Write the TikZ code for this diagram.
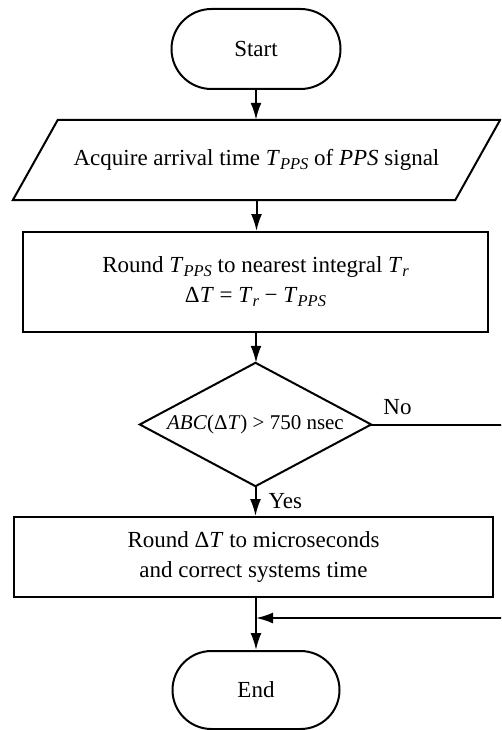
\documentclass[tikz,border=0pt]{standalone}
\usepackage{fontspec}
\setmainfont{Liberation Serif}
\usetikzlibrary{arrows.meta,shapes.misc}
% italic subscript set by hand (text font, no math font)
\newcommand\subit[1]{\raisebox{-0.38ex}{\fontsize{16.5}{16.5}\selectfont\itshape #1}}

\begin{document}
\begin{tikzpicture}[x=1pt,y=-1pt,
  every node/.style={font=\fontsize{23}{30}\selectfont, inner sep=0pt},
  line/.style={line width=2pt},
  flow/.style={line, -{Latex[length=17pt,width=11pt]}},
  terminal/.style={rounded rectangle, draw, line width=2pt,
                   minimum width=169pt, minimum height=80pt},
  procbox/.style={rectangle, draw, line width=2pt, align=center},
]
\useasboundingbox (0,0) rectangle (501,730);
\clip (0,0) rectangle (501,730);

% terminals and steps
\node[terminal] (start) at (256,49) {Start};

\node[minimum width=487pt, minimum height=80pt] (acq) at (256.5,160)
  {Acquire arrival time \textit{T}\subit{PPS} of \textit{PPS} signal};
\draw[line, line join=miter] ([xshift=45pt]acq.north west) -- (acq.north east)
  -- ([xshift=-45pt]acq.south east) -- (acq.south west) -- cycle;

\node[procbox, minimum width=465pt, minimum height=100pt] (rnd) at (255.5,282)
  {Round \textit{T}\subit{PPS} to nearest integral \textit{T}\subit{r}\\
   Δ\textit{T} = \textit{T}\subit{r} − \textit{T}\subit{PPS}};

\node[minimum width=231pt, minimum height=123pt,
      font=\fontsize{21}{25}\selectfont] (dec) at (255.5,424.5)
  {\textit{ABC}(Δ\textit{T}) > 750 nsec};
\draw[line] (dec.north) -- (dec.east) -- (dec.south) -- (dec.west) -- cycle;

\node[procbox, minimum width=479pt, minimum height=80pt] (cor) at (253.5,557)
  {Round Δ\textit{T} to microseconds\\and correct systems time};

\node[terminal, minimum width=167pt, minimum height=78pt] (end) at (256,690) {End};

% connectors
\coordinate (join) at (256,618);
\coordinate (rt) at (512,424.5);

\draw[flow] (start.south) -- (start.south |- acq.north);
\draw[flow] (acq.north |- acq.south) -- (acq.north |- rnd.north);
\draw[flow] (start.south |- rnd.south) -- (start.south |- dec.north);
\draw[flow] (dec.south) -- (dec.south |- cor.north)
  node[pos=0.5, anchor=west, xshift=12pt] {Yes};
\draw[flow] (end.north |- cor.south) -- (end.north);
\draw[flow] (dec.east) -- (dec.east -| rt) |- (join);
\node[anchor=south west, xshift=12pt, yshift=10pt] at (dec.east) {No};
\end{tikzpicture}
\end{document}
